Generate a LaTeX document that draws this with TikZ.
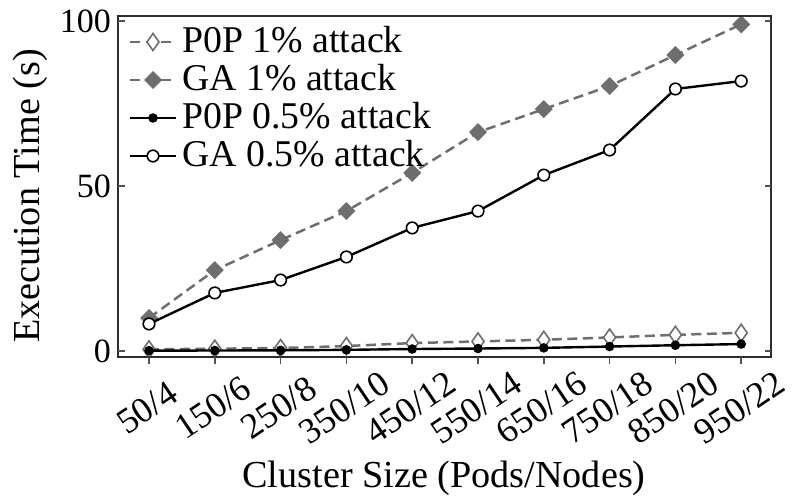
\documentclass[tikz,border=0pt]{standalone}
\usepackage{fontspec}
\setmainfont{Liberation Serif}

\definecolor{linegray}{RGB}{110,110,110}
\definecolor{spinegray}{RGB}{45,45,45}
\definecolor{tickgray}{RGB}{80,80,80}

\tikzset{
  gaplot/.style={linegray, line width=2.5pt, dash pattern=on 10pt off 5.5pt},
  blackplot/.style={black, line width=2.4pt},
  spine/.style={spinegray, line width=1.6pt},
  tickmark/.style={tickgray, line width=1.5pt},
  ticklabel/.style={font=\fontsize{34}{36}\selectfont, inner sep=0pt},
  xticklabel/.style={font=\fontsize{36}{38}\selectfont, inner sep=0pt, rotate=34, anchor=center},
  axislabel/.style={font=\fontsize{38.2}{40}\selectfont, inner sep=0pt},
  legendtext/.style={font=\fontsize{37.8}{40}\selectfont, inner sep=0pt, anchor=base west},
  pics/opendiam/.style={code={\draw[linegray, line width=1.6pt, fill=white]
      (0,-8.5) -- (6,0) -- (0,8.5) -- (-6,0) -- cycle;}},
  pics/filldiam/.style={code={\fill[linegray]
      (0,-9) -- (9,0) -- (0,9) -- (-9,0) -- cycle;}},
  pics/filldot/.style={code={\fill[black] (0,0) circle (4.8);}},
  pics/opendot/.style={code={\draw[black, line width=1.6pt, fill=white] (0,0) circle (5.8);}},
}

\begin{document}
\begin{tikzpicture}[x=1pt, y=-1pt]
\useasboundingbox (0,0) rectangle (793,500);

% data points: x = 149 + 65.8 i, y = 351 - 3.3 v
\foreach \v [count=\i from 0] in {0.5,0.7,0.9,1.5,2.4,2.9,3.4,4.1,4.9,5.5}
  \coordinate (pa\i) at ({149+65.8*\i},{351-3.3*\v});
\foreach \v [count=\i from 0] in {10,24.5,33.6,42.4,54,66.3,73.3,80.3,89.7,99}
  \coordinate (ga\i) at ({149+65.8*\i},{351-3.3*\v});
\foreach \v [count=\i from 0] in {0.1,0.15,0.2,0.35,0.6,0.75,0.95,1.35,1.75,2.1}
  \coordinate (pb\i) at ({149+65.8*\i},{351-3.3*\v});
\foreach \v [count=\i from 0] in {8.2,17.6,21.5,28.5,37.3,42.4,53.3,60.9,79.4,81.8}
  \coordinate (gb\i) at ({149+65.8*\i},{351-3.3*\v});

% series: P0P 1%
\draw[gaplot] (pa0) \foreach \i in {1,...,9}{ -- (pa\i)};
\foreach \i in {0,...,9} \pic at (pa\i) {opendiam};
% series: GA 1%
\draw[gaplot] (ga0) \foreach \i in {1,...,9}{ -- (ga\i)};
\foreach \i in {0,...,9} \pic at (ga\i) {filldiam};
% series: P0P 0.5%
\draw[blackplot] (pb0) \foreach \i in {1,...,9}{ -- (pb\i)};
\foreach \i in {0,...,9} \pic at (pb\i) {filldot};
% series: GA 0.5%
\draw[blackplot] (gb0) \foreach \i in {1,...,9}{ -- (gb\i)};
\foreach \i in {0,...,9} \pic at (gb\i) {opendot};

% frame
\draw[spine] (118,16) rectangle (771,357);

% y ticks and labels
\foreach \v/\t in {0/0,50/50,100/100} {
  \draw[tickmark] (118,{351-3.3*\v}) -- (125,{351-3.3*\v});
  \draw[tickmark] (771,{351-3.3*\v}) -- (765,{351-3.3*\v});
  \node[ticklabel, anchor=east] (yl\v) at (111,{351-3.3*\v}) {\t};
}

% x ticks and rotated labels
\foreach \t [count=\i from 0] in {50/4,150/6,250/8,350/10,450/12,550/14,650/16,750/18,850/20,950/22} {
  \draw[tickmark] ({149+65.8*\i},357) -- ({149+65.8*\i},364);
  \node[xticklabel] (xl\i) at ({147+65.8*\i},408) {\t};
}

% axis titles
\node[axislabel, rotate=90] (ytitle) at (30,196) {Execution Time (s)};
\node[axislabel, anchor=base] (xtitle) at (444,487) {Cluster Size (Pods/Nodes)};

% legend
\coordinate (la) at (153,42);
\coordinate (lb) at (153,80);
\coordinate (lc) at (153,118);
\coordinate (ld) at (153,156);
\draw[gaplot] ([xshift=-23pt]la) -- ([xshift=23pt]la);
\pic at (la) {opendiam};
\draw[gaplot] ([xshift=-23pt]lb) -- ([xshift=23pt]lb);
\pic at (lb) {filldiam};
\draw[blackplot] ([xshift=-23pt]lc) -- ([xshift=23pt]lc);
\pic at (lc) {filldot};
\draw[blackplot] ([xshift=-23pt]ld) -- ([xshift=23pt]ld);
\pic at (ld) {opendot};
\node[legendtext] (ta) at (182,53) {P0P 1\% attack};
\node[legendtext] (tb) at (182,91) {GA 1\% attack};
\node[legendtext] (tc) at (182,129) {P0P 0.5\% attack};
\node[legendtext] (td) at (182,167) {GA 0.5\% attack};
\end{tikzpicture}
\end{document}
